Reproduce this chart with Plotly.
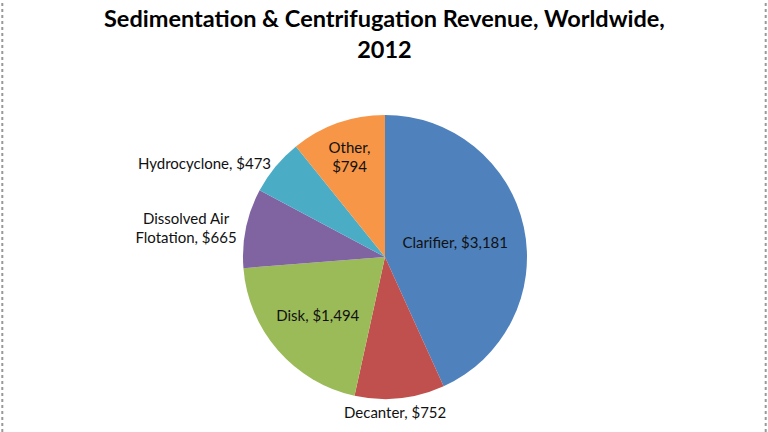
import math
import plotly.graph_objects as go

categories = ["Clarifier", "Decanter", "Disk", "Dissolved Air Flotation", "Hydrocyclone", "Other"]
revenue = [3181, 752, 1494, 665, 473, 794]
label_text = ["Clarifier, $3,181", "Decanter, $752", "Disk, $1,494",
              "Dissolved Air<br>Flotation, $665", "Hydrocyclone, $473", "Other,<br>$794"]
colors = ["#4F81BD", "#C0504D", "#9BBB59", "#8064A2", "#4BACC6", "#F79646"]
positions = ["inside", "none", "inside", "outside", "outside", "inside"]

W, H = 768, 432
cx, cy, r = 385, 257, 142
FONT = "Lato, Open Sans, sans-serif"

fig = go.Figure(go.Pie(
    labels=categories,
    values=revenue,
    text=label_text,
    textinfo="text",
    textposition=positions,
    insidetextorientation="horizontal",
    textfont=dict(family=FONT, size=15, color="#111111"),
    marker=dict(colors=colors, line=dict(width=0)),
    sort=False,
    direction="clockwise",
    rotation=0,
    hole=0,
    domain=dict(x=[(cx - r) / W, (cx + r) / W], y=[(H - cy - r) / H, (H - cy + r) / H]),
    showlegend=False,
))

# Decanter label centred below its slice, placed from the slice's mid-angle
total = sum(revenue)
i = categories.index("Decanter")
mid = (sum(revenue[:i]) + revenue[i] / 2) / total * 2 * math.pi
lx = cx + 1.10 * r * math.sin(mid)
ly = cy - 1.10 * r * math.cos(mid)

fig.update_layout(
    width=W, height=H,
    margin=dict(l=0, r=0, t=0, b=0),
    paper_bgcolor="white",
    plot_bgcolor="white",
    uniformtext=dict(minsize=14, mode="show"),
    annotations=[
        dict(text="<b>Sedimentation & Centrifugation Revenue, Worldwide,<br>2012</b>",
             xref="paper", yref="paper", x=0.5, y=1, xanchor="center", yanchor="top",
             yshift=-2, showarrow=False,
             font=dict(family=FONT, size=23.5, color="#000000")),
        dict(text=label_text[i], xref="paper", yref="paper",
             x=lx / W, y=1 - ly / H, xanchor="center", yanchor="middle", showarrow=False,
             xshift=-6, font=dict(family=FONT, size=15, color="#111111")),
    ],
    shapes=[
        dict(type="line", xref="paper", yref="paper", x0=0.003, x1=0.003, y0=0, y1=1,
             line=dict(color="#999999", width=2, dash="dot")),
        dict(type="line", xref="paper", yref="paper", x0=0.997, x1=0.997, y0=0, y1=1,
             line=dict(color="#999999", width=2, dash="dot")),
    ],
)

fig.write_html("out.html")
